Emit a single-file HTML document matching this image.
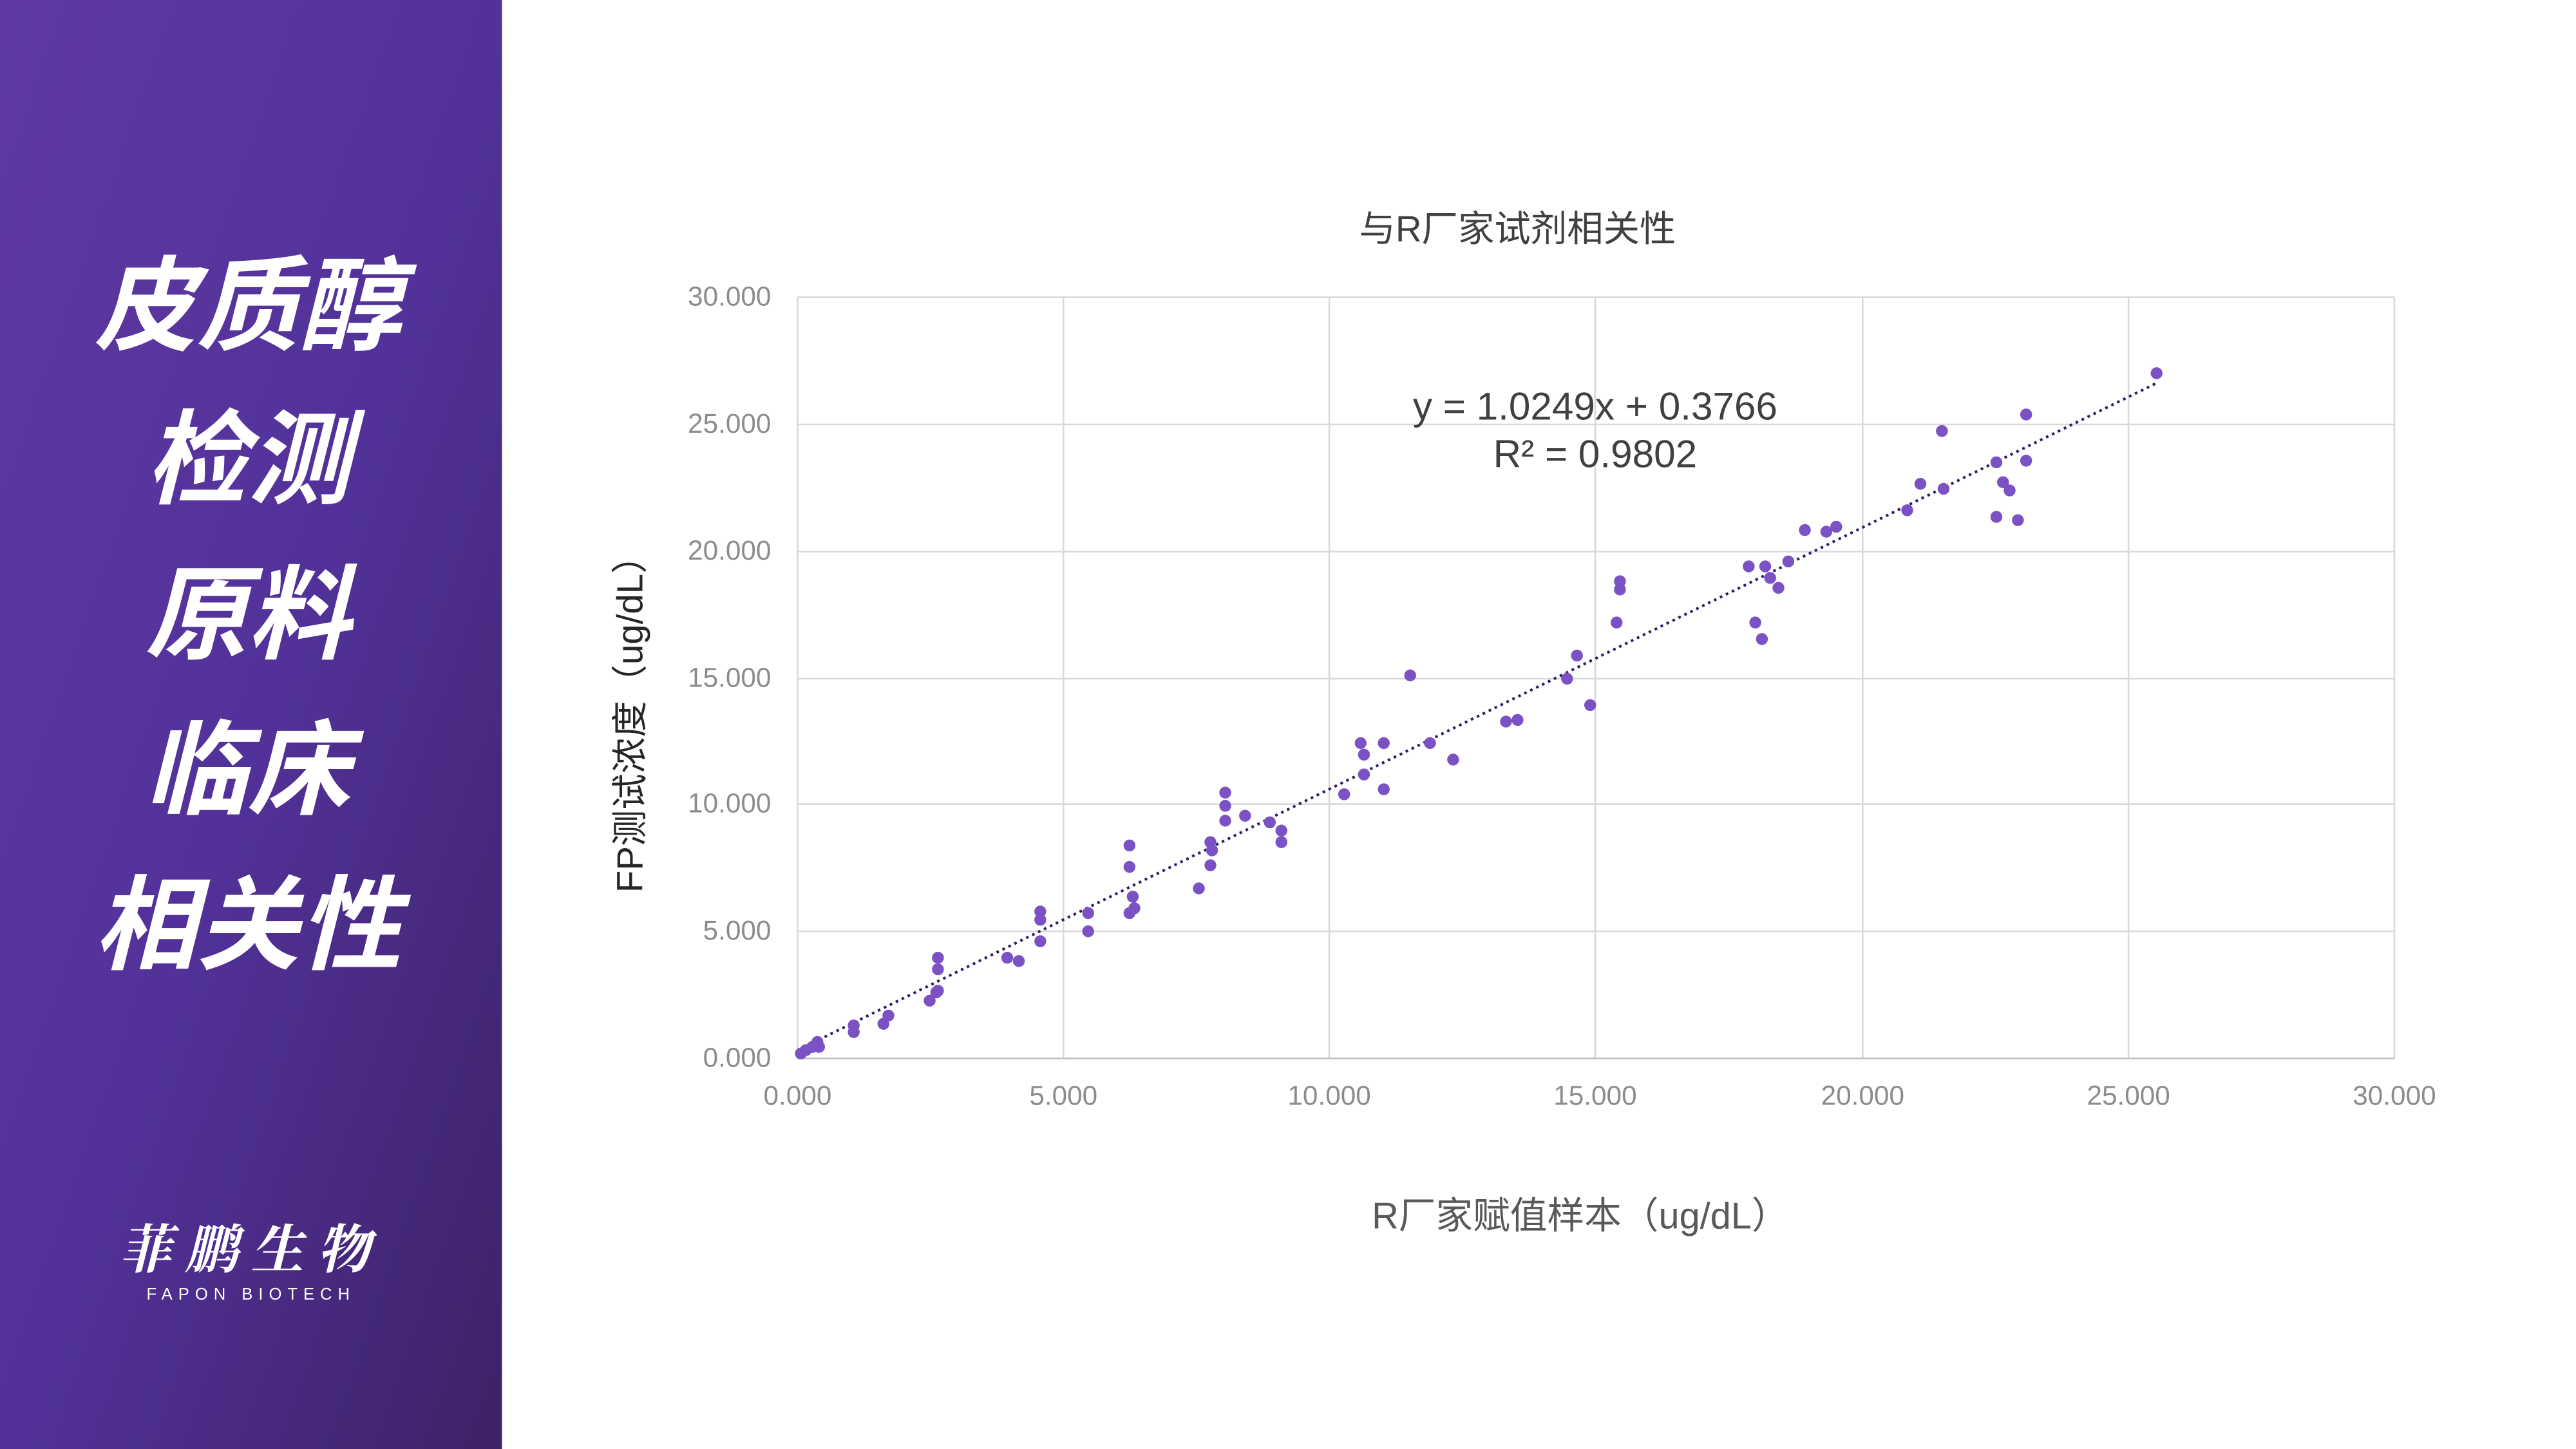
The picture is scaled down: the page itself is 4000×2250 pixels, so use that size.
<!DOCTYPE html>
<html><head><meta charset="utf-8"><style>
html,body{margin:0;padding:0;width:4000px;height:2250px;overflow:hidden;background:#fff}
svg{display:block}
</style></head><body>
<svg width="4000" height="2250" viewBox="0 0 1560 877.5" xmlns="http://www.w3.org/2000/svg">
<defs>
<linearGradient id="g" x1="0" y1="0" x2="1" y2="1">
<stop offset="0" stop-color="#5e3aa2"/><stop offset="0.5" stop-color="#52329a"/><stop offset="1" stop-color="#3d2266"/>
</linearGradient>
</defs>
<rect x="0" y="0" width="304" height="877.5" fill="url(#g)"/>
<g fill="#fff" font-family="'Noto Sans CJK SC','WenQuanYi Zen Hei',sans-serif" font-weight="bold" font-style="italic" font-size="62" text-anchor="middle">
<text x="150" y="207">皮质醇</text>
<text x="150" y="300">检测</text>
<text x="150" y="394">原料</text>
<text x="150" y="488">临床</text>
<text x="150" y="582">相关性</text>
</g>
<text x="152" y="768" fill="#fff" font-family="'Noto Serif CJK SC',serif" font-weight="bold" font-style="italic" font-size="32" text-anchor="middle" letter-spacing="8">菲鹏生物</text>
<text x="152" y="787" fill="#fff" font-family="'Liberation Sans',sans-serif" font-size="10" text-anchor="middle" letter-spacing="3.5">FAPON BIOTECH</text>

<g stroke="#d9d9d9" stroke-width="1" fill="none">
<line x1="483" y1="180" x2="1450" y2="180"/><line x1="483" y1="257" x2="1450" y2="257"/>
<line x1="483" y1="334" x2="1450" y2="334"/><line x1="483" y1="411" x2="1450" y2="411"/>
<line x1="483" y1="487" x2="1450" y2="487"/><line x1="483" y1="564" x2="1450" y2="564"/>
<line x1="644" y1="180" x2="644" y2="641"/><line x1="805" y1="180" x2="805" y2="641"/>
<line x1="966" y1="180" x2="966" y2="641"/><line x1="1128" y1="180" x2="1128" y2="641"/>
<line x1="1289" y1="180" x2="1289" y2="641"/><line x1="1450" y1="180" x2="1450" y2="641"/>
<line x1="483" y1="180" x2="483" y2="641"/>
<line x1="483" y1="641" x2="1450" y2="641" stroke="#bfbfbf"/>
</g>
<g fill="#8c8c8c" font-family="'Liberation Sans',sans-serif" font-size="16.5" text-anchor="end">
<text x="467" y="185">30.000</text><text x="467" y="262">25.000</text><text x="467" y="339">20.000</text>
<text x="467" y="416">15.000</text><text x="467" y="492">10.000</text><text x="467" y="569">5.000</text><text x="467" y="646">0.000</text>
</g>
<g fill="#8c8c8c" font-family="'Liberation Sans',sans-serif" font-size="16.5" text-anchor="middle">
<text x="483" y="669">0.000</text><text x="644" y="669">5.000</text><text x="805" y="669">10.000</text>
<text x="966" y="669">15.000</text><text x="1128" y="669">20.000</text><text x="1289" y="669">25.000</text><text x="1450" y="669">30.000</text>
</g>
<text x="919" y="146" fill="#404040" font-family="'Liberation Sans','Noto Sans CJK SC',sans-serif" font-size="22" text-anchor="middle">与R厂家试剂相关性</text>
<text x="957" y="744" fill="#595959" font-family="'Liberation Sans','Noto Sans CJK SC',sans-serif" font-size="22.5" text-anchor="middle">R厂家赋值样本（ug/dL）</text>
<text transform="translate(389,433) rotate(-90)" fill="#262626" font-family="'Liberation Sans','Noto Sans CJK SC',sans-serif" font-size="22" text-anchor="middle">FP测试浓度（ug/dL）</text>
<g fill="#404040" font-family="'Liberation Sans',sans-serif" font-size="23.5" text-anchor="middle">
<text x="966" y="254">y = 1.0249x + 0.3766</text>
<text x="966" y="283">R² = 0.9802</text>
</g>
<line x1="485" y1="635" x2="1306" y2="232" stroke="#2e1d63" stroke-width="1.6" stroke-dasharray="1.6 2.4"/>
<g fill="#7b52c4">
<circle cx="485" cy="638" r="3.6"/><circle cx="488" cy="636" r="3.6"/><circle cx="492" cy="634" r="3.6"/><circle cx="495" cy="631" r="3.6"/><circle cx="496" cy="634" r="3.6"/>
<circle cx="517" cy="621" r="3.6"/><circle cx="517" cy="625" r="3.6"/><circle cx="535" cy="620" r="3.6"/><circle cx="538" cy="615" r="3.6"/>
<circle cx="563" cy="606" r="3.6"/><circle cx="567" cy="601" r="3.6"/><circle cx="568" cy="587" r="3.6"/><circle cx="568" cy="580" r="3.6"/><circle cx="568" cy="600" r="3.6"/>
<circle cx="610" cy="580" r="3.6"/><circle cx="617" cy="582" r="3.6"/><circle cx="630" cy="552" r="3.6"/><circle cx="630" cy="557" r="3.6"/><circle cx="630" cy="570" r="3.6"/>
<circle cx="659" cy="553" r="3.6"/><circle cx="659" cy="564" r="3.6"/><circle cx="684" cy="512" r="3.6"/><circle cx="684" cy="525" r="3.6"/><circle cx="686" cy="543" r="3.6"/>
<circle cx="687" cy="550" r="3.6"/><circle cx="684" cy="553" r="3.6"/><circle cx="726" cy="538" r="3.6"/><circle cx="733" cy="510" r="3.6"/><circle cx="734" cy="515" r="3.6"/>
<circle cx="733" cy="524" r="3.6"/><circle cx="742" cy="480" r="3.6"/><circle cx="742" cy="488" r="3.6"/><circle cx="742" cy="497" r="3.6"/><circle cx="754" cy="494" r="3.6"/>
<circle cx="769" cy="498" r="3.6"/><circle cx="776" cy="503" r="3.6"/><circle cx="776" cy="510" r="3.6"/><circle cx="814" cy="481" r="3.6"/><circle cx="824" cy="450" r="3.6"/>
<circle cx="826" cy="457" r="3.6"/><circle cx="826" cy="469" r="3.6"/><circle cx="838" cy="478" r="3.6"/><circle cx="838" cy="450" r="3.6"/><circle cx="854" cy="409" r="3.6"/>
<circle cx="866" cy="450" r="3.6"/><circle cx="880" cy="460" r="3.6"/><circle cx="912" cy="437" r="3.6"/><circle cx="919" cy="436" r="3.6"/><circle cx="949" cy="411" r="3.6"/>
<circle cx="955" cy="397" r="3.6"/><circle cx="963" cy="427" r="3.6"/><circle cx="979" cy="377" r="3.6"/><circle cx="981" cy="352" r="3.6"/><circle cx="981" cy="357" r="3.6"/>
<circle cx="1059" cy="343" r="3.6"/><circle cx="1063" cy="377" r="3.6"/><circle cx="1067" cy="387" r="3.6"/><circle cx="1069" cy="343" r="3.6"/><circle cx="1072" cy="350" r="3.6"/>
<circle cx="1077" cy="356" r="3.6"/><circle cx="1083" cy="340" r="3.6"/><circle cx="1093" cy="321" r="3.6"/><circle cx="1106" cy="322" r="3.6"/><circle cx="1112" cy="319" r="3.6"/>
<circle cx="1155" cy="309" r="3.6"/><circle cx="1163" cy="293" r="3.6"/><circle cx="1176" cy="261" r="3.6"/><circle cx="1177" cy="296" r="3.6"/><circle cx="1209" cy="280" r="3.6"/>
<circle cx="1209" cy="313" r="3.6"/><circle cx="1213" cy="292" r="3.6"/><circle cx="1217" cy="297" r="3.6"/><circle cx="1222" cy="315" r="3.6"/><circle cx="1227" cy="251" r="3.6"/>
<circle cx="1227" cy="279" r="3.6"/><circle cx="1306" cy="226" r="3.6"/>
</g>
</svg>
</body></html>
